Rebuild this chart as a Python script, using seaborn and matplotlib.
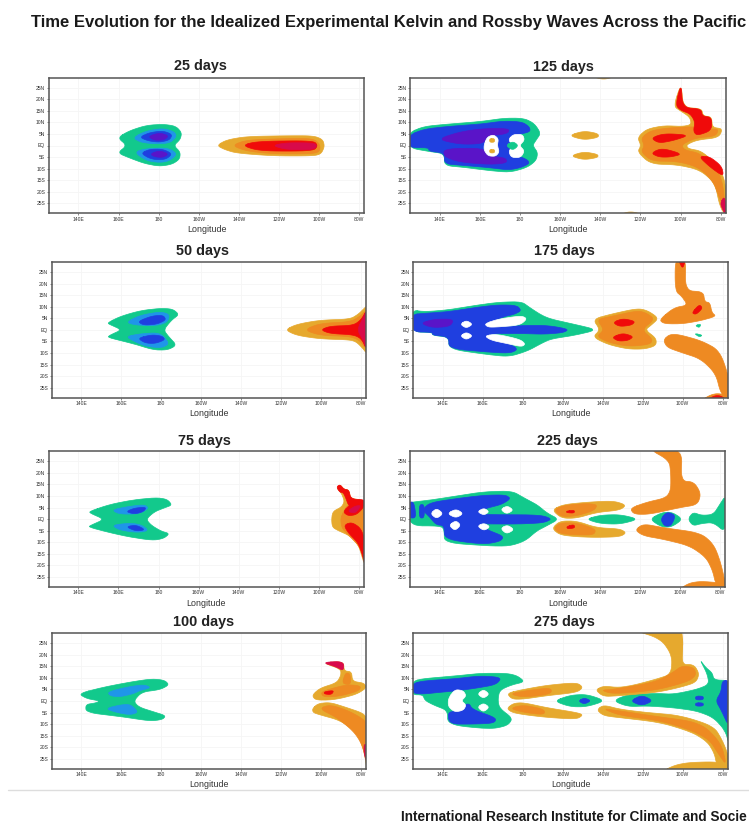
import numpy as np
import pandas as pd
import matplotlib
matplotlib.use("Agg")
import matplotlib.pyplot as plt
import seaborn as sns

# tick labels
LON_TICKS = [140, 160, 180, 200, 220, 240, 260, 280]
LON_LABELS = ["140E", "160E", "180", "160W", "140W", "120W", "100W", "80W"]
LAT_TICKS = [25, 20, 15, 10, 5, 0, -5, -10, -15, -20, -25]
LAT_LABELS = ["25N", "20N", "15N", "10N", "5N", "EQ", "5S", "10S", "15S", "20S", "25S"]

# contour level colours
TEAL, SKY, BLUE, VIOLET = sns.color_palette(["#12c98c", "#1f96e8", "#1f3fe0", "#5a14c8"])
GOLD, ORANGE, RED, CRIMSON = sns.color_palette(["#e6a92e", "#ee8a22", "#f00a0a", "#d80a4a"])
WHITE = "#ffffff"

# contour outlines, (lon east, lat)
# ---- 25 days
D25_TEAL = [(159.5,3.4),(165.5,6.4),(173.8,8.7),(182.2,9.2),(188.5,8.4),(191.5,5.6),(190.8,2.6),(187.5,0),(190.8,-2.8),(190.5,-5.9),(186.8,-8.1),(180.5,-9),(173,-7.8),(165.5,-5.4),(159.5,-3.2),(164.2,0)]
D25_SKY_N = [(167.2,3.4),(173.8,6.3),(182.2,7.4),(187.7,6),(189,3.9),(185.5,1),(177.2,.7),(170.7,1.5)]
D25_SKY_S = [(168,-3),(173,-1.4),(184.7,-1),(189.3,-3.6),(185.5,-6.6),(180.5,-7.4),(173.8,-6.5)]
D25_BLUE_N = [(170.5,3.6),(175.5,5.6),(182.2,6.3),(186.8,4.8),(185.5,2.4),(180.5,1.4),(174.7,2)]
D25_BLUE_S = [(171.3,-3.3),(175.5,-1.6),(182.2,-1.6),(186.8,-3.6),(183.8,-5.9),(178.8,-6.2),(174.7,-5.3)]
D25_VIOLET_N = [(174.7,3.9),(180.5,5.5),(185,4.2),(183,2.5),(178,2.2)]
D25_VIOLET_S = [(175.8,-3.6),(180.5,-2.2),(185,-3.6),(182.2,-5.2),(178,-4.9)]
D25_GOLD = [(209,0),(213.8,2.4),(223.8,3.9),(243.8,4.2),(257.2,4.2),(261.8,2.6),(262.7,-.4),(261,-3.6),(257.2,-4.5),(237.2,-4.5),(218.8,-3.3),(213,-1.8)]
D25_ORANGE = [(216.5,0),(223.8,2.4),(243.8,3),(257.2,3),(260.5,.3),(260.2,-2.8),(255.5,-3.6),(237.2,-3.6),(223.8,-2.4)]
D25_RED = [(221.5,0),(228.8,1.8),(257.2,2.1),(259.3,0),(257.2,-2.4),(230.5,-2.4)]
D25_CRIMSON = [(236.5,0),(243.8,1.2),(257.2,1.1),(259,-.1),(257.2,-1.8),(243.8,-1.8)]

# ---- 50 days
D50_TEAL = [(153,3),(159.5,5.8),(169.5,8.3),(179.5,9.3),(185.8,9),(189,6.6),(185.3,4.3),(181.2,0),(183.7,-2.9),(187.8,-6.6),(183.3,-8.7),(176.2,-8.7),(166.2,-6),(153,-3.3),(154.5,-2.2),(160.3,0),(154.5,2.2)]
D50_SKY_N = [(162.3,3.2),(169.5,6.3),(179.5,7.8),(184.2,6.7),(183.2,3.4),(177.8,1.8),(167.8,2)]
D50_SKY_S = [(162.3,-2.9),(169.5,-1.7),(179.5,-1.2),(184.2,-5.9),(180.3,-7.8),(172.8,-7.2),(167,-5.2)]
D50_BLUE_N = [(168.2,3.6),(175.3,6),(181,6.3),(182.5,4.3),(177.8,2.4),(171.2,2)]
D50_BLUE_S = [(168.2,-3.6),(175.3,-2.1),(180.5,-2.7),(182,-4.3),(177,-5.9),(172,-5.7)]
D50_GOLD = [(242,0),(247.8,2.4),(259.5,4.2),(274.5,4.6),(278.7,6.8),(281.5,9.2),(283,10.5),(283,-10.5),(281.2,-8.3),(277.8,-5.3),(274.5,-4.3),(259.5,-3.9),(247.8,-2.4)]
D50_ORANGE = [(251.5,0),(259.5,2.8),(274.5,3.4),(279.5,5.8),(283,9),(283,-9),(279.5,-4.6),(274.5,-2.8),(259.5,-2.4)]
D50_RED = [(259.8,0),(264.5,1.6),(276.2,1.9),(280.3,4.6),(283,9),(283,-9),(280.3,-3.9),(276.2,-2.1),(264.5,-1.6)]
D50_CRIMSON = [(278,0),(281.2,5.3),(283,9),(283,-9),(281.2,-4.6)]

# ---- 75 days
D75_TEAL = [(145.3,3.3),(155.5,6.3),(167.2,8.3),(178.8,9.3),(184.3,8.6),(186.8,6.1),(183,4.9),(178,3.2),(173.8,0),(176.3,-2.6),(181.3,-5.2),(185.5,-6.2),(182.7,-8.3),(177.2,-9.2),(165.5,-7.7),(155.5,-5.8),(145,-3.4),(146.3,-2.6),(153,-.1),(146.3,2.4)]
D75_SKY_N = [(156.7,3.9),(163.8,5.3),(173,6.3),(175.2,4.6),(169.7,2.2),(160.5,2.2)]
D75_SKY_S = [(156.7,-2.6),(165.5,-1.7),(171.3,-2.4),(175.2,-4.9),(169.7,-5.8),(160.5,-4.7)]
D75_BLUE_N = [(163.7,3.2),(168,4.8),(174,5.2),(172.5,3.2),(168,2.2)]
D75_BLUE_S = [(163.7,-3.3),(168.8,-2.5),(173.5,-4.6),(168.8,-5.2)]
D75_GOLD = [(266.3,0),(267,3.4),(271.3,5.2),(272.8,7.7),(271.3,11.1),(269,13.2),(270.5,15),(272.5,12.9),(275,12.6),(275.9,8.7),(283,8.4),(283,-20.5),(281.3,-15.5),(279.7,-11.2),(275.5,-7.2),(269.7,-5),(266.7,-3.5)]
D75_ORANGE = [(270.8,0),(272.2,3.2),(274.7,6.6),(283,8.1),(283,-19),(280.5,-12),(275.5,-7.5),(271.5,-4)]
D75_RED_TOP = [(268.8,13.8),(270.5,15),(272.5,12.9),(275,12.6),(275.9,8.7),(283,8.4),(283,5.8),(277.2,4.8),(274.7,6),(273.5,8.9),(272.2,11.4),(270.5,11.6)]
D75_RED_N = [(272,3.1),(275.5,6.3),(280.5,7.4),(283,5.8),(279,2),(274.7,1.4)]
D75_RED_S = [(272.5,-2.6),(276.3,-1.3),(280.8,-3.8),(283,-9),(283,-20),(281.3,-14.3),(279.4,-10.1),(274.5,-5.8)]
D75_CRIMSON = [(274.2,3.4),(278,5.7),(281.2,5.9),(278,2.4)]

# ---- 100 days
D100_TEAL = [(138.5,3.2),(151.2,6),(164.5,8.2),(175.3,9.6),(181.7,9),(184,7),(179.5,4.9),(170.3,3.9),(166.2,0),(168.7,-2.6),(176.2,-4.7),(182.3,-6.3),(180.8,-8),(174.5,-8.7),(161.2,-6.9),(142.4,-5),(142.2,-1.5),(147,-.9),(149.5,0),(142.8,1)]
D100_SKY_N = [(153.2,3.9),(162.8,6),(171.2,7.1),(175,5.8),(169.5,4.6),(166.2,3.2),(159.5,1.8),(154.5,2.2)]
D100_SKY_S = [(152,-3.3),(159.5,-1.7),(164.5,-1.4),(168.7,-4.8),(164.5,-6),(157.8,-5)]
D100_GOLD_N = [(255.5,2.5),(259.5,5.6),(267.8,7.8),(270,11.1),(269.8,13.9),(260.5,16.5),(271.3,17.2),(271.5,13),(275.3,12.7),(275.7,8.5),(281.5,7.8),(282.8,5.7),(278,3),(270.3,1.2),(264.5,.4),(257.2,.4)]
D100_GOLD_S = [(255.7,-3.3),(258.5,-1.1),(264.5,-.6),(272,-2.6),(281.5,-5.4),(283,-8.3),(283,-30),(282,-24.1),(280,-17.3),(276.7,-12.9),(269.5,-8.4),(259.5,-6),(256,-5)]
D100_ORANGE_N = [(259.8,3.9),(267.8,6),(273.7,7.1),(280,6.5),(279,4.4),(269.5,2.1),(261.2,1.7)]
D100_ORANGE_NECK = [(270.5,7.5),(272.2,12.2),(274.5,11.9),(275,7)]
D100_ORANGE_S = [(259,-3.3),(264.5,-1.6),(273.7,-4.2),(281.5,-8),(283,-10.5),(283,-26),(280,-17.9),(276,-12.9),(267.8,-7.1)]
D100_RED = [(261.5,4),(266.5,4.6),(265.3,2.8),(261.7,3)]
D100_CRIMSON_N = [(260.5,16.7),(271.3,17.2),(271.3,13),(267.5,14.8)]
D100_CRIMSON_S = [(281.5,-18.8),(283,-18.8),(283,-27),(281.5,-22.7)]

# ---- 125 days
D125_TEAL = [(124.5,5.5),(131.7,8.2),(143.3,9.2),(160,10.3),(171.7,11.8),(181.7,11.8),(187,9.6),(190.3,5.3),(188,2.4),(186.2,0),(188.8,-3),(188,-6.5),(183.5,-9.5),(175,-11.6),(165,-10.9),(151.7,-9.4),(142.2,-8.7),(142.2,-3.5),(134.5,-2.6),(124.5,-1)]
D125_BLUE = [(124.5,4.4),(131.7,7),(143.3,8.2),(160,9.2),(171.7,10.6),(181,10.2),(184.7,8),(185,5.9),(179.2,4.8),(175.8,3.4),(175.3,0),(175.3,-3.3),(183.5,-6),(184.7,-7.8),(180.2,-9.6),(174.2,-10.6),(165,-9.6),(151.7,-8.6),(142.2,-8),(142.2,-3.2),(134.4,-2.5),(134.4,-.9),(124.5,-1)]
D125_VIOLET_N = [(138.7,2.7),(150,5.9),(161.7,7.3),(174.7,7.3),(173.7,5.1),(163.3,4),(161.7,.8),(150,.5)]
D125_VIOLET_S = [(142,-1.4),(161.7,-1.1),(163.3,-4.5),(172.7,-5.3),(173.5,-7.5),(165,-8.2),(150,-7.2),(142,-4.8)]
D125_HOLE_W = [(162,.3),(163.5,3.6),(166.7,4.7),(169.2,2.9),(168.6,0),(169.6,-2.8),(167.7,-4.7),(164,-4.5),(162,-2.1)]
D125_HOLE_E = [(174,2.4),(176.5,4.8),(181.2,4.8),(182.2,2.3),(179.6,0),(182.2,-2.3),(180.3,-5.2),(175.6,-5.2),(174.2,-2.4),(176.7,-.1)]
D125_DIAMOND = [(172.8,0),(176.3,1.8),(179.2,0),(176.3,-2.1)]
D125_DOT_N = [(164.8,3),(167.2,3),(167.2,1.4),(164.8,1.4)]
D125_DOT_S = [(164.8,-1.7),(167.2,-1.7),(167.2,-3.2),(164.8,-3.2)]
D125_BLOB_N = [(204.2,4.3),(211.7,6.3),(218.8,5.2),(219.2,3.5),(211.7,2.4)]
D125_BLOB_S = [(205,-4.5),(211.7,-2.7),(218.8,-3.8),(218.8,-5.2),(211.7,-6.2)]
D125_EDGE_TOP = [(215,30),(228,30),(221.7,28.4)]
D125_EDGE_BOT = [(229,-30),(242,-30),(235,-28.4)]
D125_GOLD = [(238.5,3.4),(243,7.1),(251.7,8.6),(260.8,8.2),(265.4,9),(264.6,12.3),(260,14.9),(256.5,17),(260.3,27),(261.3,16.4),(270.5,16),(271.2,12.8),(275.5,12.4),(275.8,7.8),(281,7.3),(279,3.4),(268.3,2.4),(262.8,.3),(263.8,-1.4),(270.2,-2.3),(277,-7.4),(282,-14),(283,-24.9),(283,-31),(279.6,-26.5),(277.2,-16.4),(269.8,-10.6),(258.3,-8.3),(245,-8),(238.5,-2.8),(240.3,0)]
D125_ORANGE = [(240.3,3.2),(244.8,6.3),(252.5,7.5),(266.7,8.2),(274.2,7.1),(279,7.1),(277.5,4),(267.5,3.3),(260.3,.3),(262,-2),(269.4,-3.3),(276.2,-8.1),(280.8,-14.8),(282.5,-28),(279,-22),(276.5,-15.7),(269,-9.4),(258.3,-6.8),(245.6,-6.8),(240.3,-2.8),(242,0)]
D125_RED_N = [(245.2,3.2),(251.7,5.2),(264.5,4.5),(256.7,2.2),(249.2,1)]
D125_RED_S = [(245.2,-3.3),(250.7,-1.1),(261,-3.7),(255,-5),(249.2,-5)]
D125_RED_E = [(269,-4.7),(274.4,-4.7),(280.6,-9),(281.5,-13.5),(274.8,-9.4)]
D125_RED_TOP = [(257.5,17.5),(260.3,27),(261,16.4),(270.3,15.8),(270.8,12.7),(275.5,12.2),(275.5,6.5),(268.3,4.3),(266.4,6),(267.2,10.3),(264.8,13.7),(260,15.2)]
D125_CRIMSON = [(279.8,-25),(281.7,-22),(283,-26),(283,-31),(281,-27.7)]

# ---- 175 days
D175_TEAL = [(124.5,8.6),(130.8,7.8),(142.5,8.6),(155.8,10.5),(167.5,11.9),(179.4,12.2),(183.5,9.6),(189.4,6.3),(194.2,4.6),(205.8,2.4),(217.5,0),(205.8,-2.4),(194.2,-3.9),(189.4,-5.8),(182.7,-9),(173.3,-11.6),(162.5,-10.7),(143,-8.3),(143,-3.1),(134.8,-2.4),(134.8,-1.1),(124.5,-.9)]
D175_BLUE = [(124.5,6.7),(130.8,7.1),(142.5,7.8),(155.8,9.6),(167.5,10.8),(177,10.6),(179.3,8.3),(175.8,6.7),(170.8,5.8),(164.2,3.4),(162.5,1.7),(166.7,1.2),(180.8,1.9),(192.5,1.9),(203,.3),(200.5,-1.2),(190.8,-1.9),(180.8,-1.6),(166.7,-1.6),(162.5,-2.2),(166.7,-4.1),(175.8,-7),(177.2,-8.7),(173.3,-10.1),(162.5,-9.6),(143,-8.1),(143,-3),(134.8,-2.3),(134.8,-1),(124.5,-.9)]
D175_VIOLET = [(128.7,2.9),(135.8,4.6),(145.5,4.6),(143.7,1.5),(134.8,.9)]
D175_FINGER_N = [(160.8,2.6),(167.5,4.6),(179.2,6.1),(182.2,4.8),(178.5,2),(166.7,1.2),(162.5,1.2)]
D175_FINGER_S = [(160.8,-2.6),(166.7,-1.8),(178.5,-4.1),(181.3,-6.1),(179.4,-7.3),(172.5,-6),(164.2,-4.5)]
D175_DOT_N = [(148.7,2.4),(151.7,4.1),(155,2.4),(151.7,.7)]
D175_DOT_S = [(148.7,-2.6),(151.7,-1),(155,-2.6),(151.7,-4.3)]
D175_GOLD = [(215,4.6),(224.2,6.8),(237.5,9.3),(242.7,8.2),(248,5),(244.2,2),(241.2,0),(246.7,-3.6),(246.7,-6.8),(241,-8.3),(232.5,-8.3),(222.5,-6.3),(215,-3.1),(218.7,0)]
D175_ORANGE = [(217,4.5),(224.2,5.8),(237.5,8.3),(242,7.2),(246,4.6),(239.4,0),(245,-4),(243.7,-6.3),(232.5,-7.2),(222.5,-5.3),(217,-2.8),(220.7,0)]
D175_RED_N = [(225,3.2),(230,4.9),(236.3,3.7),(234.4,2),(228.3,1.4)]
D175_RED_S = [(224.5,-3.2),(230,-1.4),(235.5,-2.9),(232.7,-4.6),(227.8,-4.9)]
D175_NORTH = [(248.2,4.3),(255.6,9.6),(262.5,10.6),(259.6,14.4),(256.2,16.8),(256.2,31),(261.6,31),(261.2,16.9),(270.3,16.5),(271,12.1),(273.6,11.8),(274.6,7.4),(276.8,5.9),(269.2,4),(260,2.6),(250.8,2.6)]
D175_RED_TOP = [(257.5,31),(261.5,31),(260,26)]
D175_RED_STRIPE = [(264.5,7.3),(268.3,11),(270,9.4),(266.7,6.6)]
D175_SOUTH = [(250.3,-4.5),(253.1,-2.1),(257.5,-1.9),(269.4,-4.7),(278.6,-9),(283.5,-21.6),(283.5,-31),(279,-27.5),(276.5,-18.9),(269,-12.5),(259,-9.7),(252.2,-7.6)]
D175_SLIVER = [(268,-31),(275.8,-27.2),(283.5,-28.4),(283.5,-31)]
D175_SLIVER_RED = [(270.5,-31),(277.5,-27.7),(283.5,-31)]
D175_SPECK_N = [(266.2,1.9),(269.2,2.5),(268.3,.9)]
D175_SPECK_S = [(265.7,-1.5),(270,-2.3),(268.3,-3.1)]

# ---- 225 days
D225_TEAL = [(124.5,7.1),(126.7,7.4),(135,8.2),(148.3,10),(161.7,11.8),(176,12.2),(182,9.2),(188.5,6.3),(193.6,2.6),(199.5,0),(193.6,-2.8),(188.5,-5),(182.7,-9.4),(175,-11.6),(165,-11.6),(142.2,-10.2),(142.2,-5),(140.8,-2.9),(124.5,-2.9)]
D225_BLUE = [(131.2,3.9),(134.8,7.1),(148.3,8.9),(161.7,10.3),(172.7,10.5),(175.5,8.9),(170.8,6.3),(163.3,4.8),(158.8,2.4),(165,1.9),(183.3,1.9),(191.7,1.5),(196,0),(191.7,-1.6),(180,-2.1),(166.7,-2.1),(159.6,-1.9),(163.3,-4.5),(172,-7.4),(170.2,-9.6),(161.7,-10.9),(142.2,-8.7),(142.2,-2.8),(138,-2.4),(134.8,1)]
D225_STRIPE_A = [(124.5,.5),(124.5,7.4),(127,7.4),(128.2,.5)]
D225_STRIPE_B = [(129.7,.5),(129.7,6.3),(132.2,6.3),(132.2,.5)]
D225_HOLE_A = [(135.3,2.4),(138.3,4.7),(141.7,2.4),(138.3,.2)]
D225_HOLE_B = [(143.7,2.4),(148,4.4),(151.8,2.4),(148,.5)]
D225_HOLE_C = [(158.7,3.2),(162,4.8),(164.7,3.2),(162,1.7)]
D225_HOLE_D = [(170.3,4.2),(173.7,5.8),(176.8,3.9),(173.3,2.2)]
D225_HOLE_E = [(144.5,-2.6),(148,-.6),(150.5,-2.6),(147.5,-5)]
D225_HOLE_F = [(158.7,-3),(162,-1.7),(165.2,-3.3),(162,-5)]
D225_HOLE_G = [(170.3,-4),(173.7,-2.5),(177.2,-4.5),(173.3,-6.4)]
D225_GOLD_N = [(196,4),(201.7,6.3),(213.3,7.3),(226.7,7.9),(233.2,6.1),(230,3.9),(218.3,2.9),(208.3,.4),(200.8,.4)]
D225_ORANGE_N = [(197,4),(201.7,5.9),(213.3,6.8),(218.8,6.2),(217,3.7),(208.3,1.4),(200.8,1)]
D225_RED_N = [(203.3,3.5),(207.2,3.9),(207.2,2.6),(203.3,2.8)]
D225_GOLD_S = [(196,-4),(200,-.8),(208.3,-.8),(218.3,-3.7),(230,-4.2),(233.2,-5.9),(230,-7.6),(218.3,-7.9),(208.3,-7.6),(200,-6.8)]
D225_ORANGE_S = [(197,-4),(200,-1.6),(208.3,-1.6),(218,-4.3),(217,-6.8),(208.3,-6.8),(200,-6.2)]
D225_RED_S = [(203.3,-3.2),(207,-2.3),(207.5,-3.8),(203.8,-4.2)]
D225_LENS = [(213,0),(220,1.7),(230,2),(239.5,0),(230,-2.2),(220,-1.9)]
D225_DIAMOND = [(244.8,0),(250.8,2.8),(255.8,3.1),(261.5,0),(255.8,-3.4),(250.8,-3.4)]
D225_DIAMOND_BLUE = [(250.3,0),(253.3,3.1),(257.2,2),(257.2,0),(255.3,-3),(252.2,-3)]
D225_TEAL_E = [(264,0),(266.5,3),(270.8,1.6),(276.7,2),(280,6.5),(283,10.5),(283,-6),(276.7,-1.4),(270.8,-1.9),(266.5,-2.9)]
D225_NORTH = [(235,4.7),(243.3,7.3),(253,9.2),(255.4,12.5),(255.4,19.7),(254.6,25.4),(244,30.5),(261.2,30.5),(260.4,16.5),(267,16.1),(270.5,11.1),(268.8,6.2),(260,5),(245,2.1),(237,2.1)]
D225_SOUTH = [(237.5,-4.7),(241.7,-2),(251.7,-3.7),(270.3,-5.9),(277,-11),(280.5,-19.1),(283.5,-31),(278,-28.6),(276.3,-22.2),(273,-16.5),(264.8,-11.5),(251.7,-8.7),(241.7,-7.2)]
D225_SLIVER = [(258,-31),(266.7,-26.6),(283.5,-27.7),(283.5,-31)]

# ---- 275 days
D275_TEAL = [(125,8.6),(130.3,9.7),(147,10.9),(158.7,12),(172,12),(177.3,10.9),(181,8.3),(174.5,7),(168.4,4.7),(167.5,.4),(168.4,-3.2),(175,-7.5),(172.3,-10.7),(163.7,-12.2),(142.4,-10.3),(142.4,-4.1),(136,-2),(131,.2),(130,2.7),(124.5,2.7)]
D275_BLUE_N = [(125,7.6),(130.3,8.7),(147,9.7),(158.7,10.9),(169.5,10.2),(166.7,7.1),(157,5.6),(147,4.4),(137.8,3.7),(130.3,3),(125,3.3)]
D275_BLUE_S = [(142.4,-5.1),(146.2,-4.3),(152.8,-.6),(154.8,-3.7),(166.8,-7.3),(165.7,-9.6),(155.3,-10),(143.4,-10)]
D275_HOLE_A = [(142.7,1.1),(146,5),(150.2,4.5),(151.7,2.2),(149.2,.1),(151.7,-1.7),(150.3,-4),(146,-4.8),(142.7,-2.5)]
D275_HOLE_B = [(157.3,3),(160.3,5),(163.3,3),(160.3,1.1)]
D275_HOLE_C = [(157.3,-2.7),(160.3,-.9),(163.3,-2.7),(160.3,-4.8)]
D275_GOLD_N = [(172,3.4),(180.3,5),(192,6.8),(207,8),(210.2,5.9),(207,3.7),(192,2.3),(180.3,.8),(174.5,.8)]
D275_ORANGE_N = [(173.5,3),(180.3,4.3),(194.2,5.8),(194.2,3),(180.3,1.6)]
D275_GOLD_S = [(172,-3.2),(175.3,-1),(180.3,-.7),(192,-2.9),(207,-5),(210.2,-6),(207,-7.9),(192,-7.1),(180.3,-5.9),(174.5,-4.9)]
D275_ORANGE_S = [(173.5,-3.2),(180.3,-1.7),(190.8,-3.6),(190.8,-6),(180.3,-4.9)]
D275_LENS = [(195.5,0),(203.7,2.5),(212,2.9),(221.5,.1),(212,-2.5),(203.7,-2.5)]
D275_LENS_BLUE = [(207.8,0),(210.7,1.4),(214.2,.1),(210.7,-1.4)]
D275_NORTH = [(216.3,4.8),(220.3,6.5),(227.8,5.8),(235.3,6.8),(247,9.5),(254.2,11.6),(254.7,19.7),(249,27),(234,31),(260.8,31),(259,15.8),(265.6,15.8),(268.3,11.8),(266.6,8),(258.7,5.9),(247,3.7),(228.7,2.3),(220.3,1.9)]
D275_NORTH_ORANGE = [(219,4.7),(225.3,5),(247,8.3),(256,12.9),(259.5,15.2),(265.7,14.5),(266.7,11.2),(263,8.5),(247,4.7),(225.3,3)]
D275_STEM = [(256,14.8),(254.2,22),(256.5,31),(260,31),(259.8,14.8)]
D275_SOUTH = [(217,-3.9),(220.3,-1.7),(228.7,-3.6),(242,-5),(258.7,-6.2),(275.6,-10.9),(280,-17.3),(283,-24),(283,-31),(277,-27.8),(275.9,-22.8),(272.5,-17.8),(265,-13.6),(248.7,-9.2),(227,-7.1),(220.3,-6.3)]
D275_SOUTH_ORANGE = [(219.6,-3.2),(228.7,-4.3),(245.3,-6.5),(269,-9.3),(279.2,-18.2),(282,-28),(277.5,-22.4),(273.5,-17),(265.1,-12.9),(248.7,-8.5),(228.7,-6.3)]
D275_SLIVER = [(248,-31),(258.7,-26.8),(277,-26.2),(283,-28),(283,-31)]
D275_TEAL_E = [(225,.1),(232.8,2.9),(247,3.3),(255.3,2.9),(267,5),(273.2,7.2),(272.2,11.9),(268.5,18),(271.5,14.5),(274.8,12.2),(275.6,9.1),(283.5,8.9),(283.5,-20),(281.4,-13),(275.5,-7.2),(267,-4.3),(255.3,-2.9),(242,-2.1),(232.8,-2.5)]
D275_ELLIPSE = [(233.7,0),(239.5,2.6),(245.3,.1),(239.5,-2.1)]
D275_BLUE_E = [(279.8,8.9),(283.5,8.9),(283.5,-12),(279.2,-3.9),(276.5,.1),(279.2,4)]
D275_BAR_N = [(266.4,2.1),(270.3,2.1),(270.3,.5),(266.4,.5)]
D275_BAR_S = [(266.4,-.8),(270.3,-.8),(270.3,-2.2),(266.4,-2.2)]

# panel title, frame in pixels (left, right, top, bottom), title pixel, regions in draw order
PANELS = [
    ("25 days", (48.7, 364.3, 77.7, 213.3), (200, 66), [
        (TEAL, D25_TEAL), (SKY, D25_SKY_N), (SKY, D25_SKY_S), (BLUE, D25_BLUE_N), (BLUE, D25_BLUE_S),
        (VIOLET, D25_VIOLET_N), (VIOLET, D25_VIOLET_S),
        (GOLD, D25_GOLD), (ORANGE, D25_ORANGE), (RED, D25_RED), (CRIMSON, D25_CRIMSON)]),
    ("50 days", (51.7, 366, 262, 397.7), (203, 251), [
        (TEAL, D50_TEAL), (SKY, D50_SKY_N), (SKY, D50_SKY_S), (BLUE, D50_BLUE_N), (BLUE, D50_BLUE_S),
        (GOLD, D50_GOLD), (ORANGE, D50_ORANGE), (RED, D50_RED), (CRIMSON, D50_CRIMSON)]),
    ("75 days", (48.7, 364, 451.3, 587), (204, 441), [
        (TEAL, D75_TEAL), (SKY, D75_SKY_N), (SKY, D75_SKY_S), (BLUE, D75_BLUE_N), (BLUE, D75_BLUE_S),
        (GOLD, D75_GOLD), (ORANGE, D75_ORANGE), (RED, D75_RED_TOP), (RED, D75_RED_N), (RED, D75_RED_S),
        (CRIMSON, D75_CRIMSON)]),
    ("100 days", (51.7, 366, 633.3, 768.7), (204, 622), [
        (TEAL, D100_TEAL), (SKY, D100_SKY_N), (SKY, D100_SKY_S),
        (GOLD, D100_GOLD_N), (GOLD, D100_GOLD_S), (ORANGE, D100_ORANGE_N), (ORANGE, D100_ORANGE_NECK),
        (ORANGE, D100_ORANGE_S), (RED, D100_RED), (CRIMSON, D100_CRIMSON_N), (CRIMSON, D100_CRIMSON_S)]),
    ("125 days", (410.3, 725.7, 77.7, 213.3), (563, 67), [
        (TEAL, D125_TEAL), (BLUE, D125_BLUE), (VIOLET, D125_VIOLET_N), (VIOLET, D125_VIOLET_S),
        (WHITE, D125_HOLE_W), (WHITE, D125_HOLE_E), (TEAL, D125_DIAMOND), (GOLD, D125_DOT_N), (GOLD, D125_DOT_S),
        (GOLD, D125_BLOB_N), (GOLD, D125_BLOB_S), (GOLD, D125_EDGE_TOP), (GOLD, D125_EDGE_BOT),
        (GOLD, D125_GOLD), (ORANGE, D125_ORANGE), (RED, D125_RED_N), (RED, D125_RED_S), (RED, D125_RED_E),
        (RED, D125_RED_TOP), (CRIMSON, D125_CRIMSON)]),
    ("175 days", (413.3, 727.7, 262, 397.7), (564, 251), [
        (TEAL, D175_TEAL), (BLUE, D175_BLUE), (VIOLET, D175_VIOLET),
        (WHITE, D175_FINGER_N), (WHITE, D175_FINGER_S), (WHITE, D175_DOT_N), (WHITE, D175_DOT_S),
        (GOLD, D175_GOLD), (ORANGE, D175_ORANGE), (RED, D175_RED_N), (RED, D175_RED_S),
        (ORANGE, D175_NORTH), (RED, D175_RED_TOP), (RED, D175_RED_STRIPE), (ORANGE, D175_SOUTH),
        (ORANGE, D175_SLIVER), (RED, D175_SLIVER_RED), (TEAL, D175_SPECK_N), (TEAL, D175_SPECK_S)]),
    ("225 days", (410.3, 725, 451.3, 587), (567, 441), [
        (TEAL, D225_TEAL), (BLUE, D225_BLUE), (BLUE, D225_STRIPE_A), (BLUE, D225_STRIPE_B),
        (WHITE, D225_HOLE_A), (WHITE, D225_HOLE_B), (WHITE, D225_HOLE_C), (WHITE, D225_HOLE_D),
        (WHITE, D225_HOLE_E), (WHITE, D225_HOLE_F), (WHITE, D225_HOLE_G),
        (GOLD, D225_GOLD_N), (ORANGE, D225_ORANGE_N), (RED, D225_RED_N),
        (GOLD, D225_GOLD_S), (ORANGE, D225_ORANGE_S), (RED, D225_RED_S),
        (TEAL, D225_LENS), (TEAL, D225_DIAMOND), (BLUE, D225_DIAMOND_BLUE), (TEAL, D225_TEAL_E),
        (ORANGE, D225_NORTH), (ORANGE, D225_SOUTH), (ORANGE, D225_SLIVER)]),
    ("275 days", (413.3, 727.7, 633.3, 768.7), (564, 622), [
        (TEAL, D275_TEAL), (BLUE, D275_BLUE_N), (BLUE, D275_BLUE_S),
        (WHITE, D275_HOLE_A), (WHITE, D275_HOLE_B), (WHITE, D275_HOLE_C),
        (GOLD, D275_GOLD_N), (ORANGE, D275_ORANGE_N), (GOLD, D275_GOLD_S), (ORANGE, D275_ORANGE_S),
        (TEAL, D275_LENS), (BLUE, D275_LENS_BLUE),
        (TEAL, D275_TEAL_E), (BLUE, D275_ELLIPSE), (BLUE, D275_BLUE_E), (BLUE, D275_BAR_N), (BLUE, D275_BAR_S),
        (GOLD, D275_NORTH), (ORANGE, D275_NORTH_ORANGE), (GOLD, D275_STEM),
        (GOLD, D275_SOUTH), (ORANGE, D275_SOUTH_ORANGE), (GOLD, D275_SLIVER)]),
]

W, H = 749, 824
sns.set_theme(style="whitegrid", rc={"grid.color": "#f5f5f5", "grid.linewidth": 0.6})
plt.rcParams["font.family"] = ["Liberation Sans", "DejaVu Sans"]

fig = plt.figure(figsize=(W / 100, H / 100), dpi=100, facecolor="white")


def round_corners(outline, passes=3, cut=0.22):
    # contours in the picture are smooth, so knock the corners off the outline
    pts = np.array(outline, dtype=float)
    for _ in range(passes):
        nxt = np.roll(pts, -1, axis=0)
        pts = np.column_stack([(1 - cut) * pts + cut * nxt, cut * pts + (1 - cut) * nxt]).reshape(-1, 2)
    return pts


def draw_region(ax, colour, outline):
    pts = round_corners(outline)
    df = pd.DataFrame(np.vstack([pts, pts[:1]]), columns=["lon", "lat"])
    ax.fill(df["lon"], df["lat"], color=colour, lw=0, zorder=2)
    sns.lineplot(data=df, x="lon", y="lat", sort=False, estimator=None, color=colour,
                 lw=0.5, ax=ax, legend=False, zorder=2)


for title, frame, title_xy, regions in PANELS:
    left, right, top, bottom = frame
    ax = fig.add_axes([left / W, 1 - bottom / H, (right - left) / W, (bottom - top) / H])
    for colour, outline in regions:
        draw_region(ax, colour, outline)
    ax.set_xlim(125.2, 282.5)
    ax.set_ylim(-29.3, 29.3)
    ax.set_xticks(LON_TICKS, LON_LABELS)
    ax.set_yticks(LAT_TICKS, LAT_LABELS)
    ax.tick_params(labelsize=3.6, length=1.5, width=0.4, pad=1, colors="#333333",
                   bottom=True, left=True)
    ax.set_axisbelow(True)
    ax.set_xlabel("Longitude", fontsize=6.4, color="#333333", labelpad=2.2)
    ax.set_ylabel("")
    for side in ax.spines.values():
        side.set_color("#555555")
        side.set_linewidth(1.1)
    fig.text(title_xy[0] / W, 1 - title_xy[1] / H, title, ha="center", va="center",
             fontsize=10.4, fontweight="bold", color="#222222")

fig.text(31 / W, 1 - 22 / H, "Time Evolution for the Idealized Experimental Kelvin and Rossby Waves Across the Pacific",
         ha="left", va="center", fontsize=11.95, fontweight="bold", color="#1a1a1a")
fig.add_artist(plt.Line2D([8 / W, 1], [1 - 790 / H, 1 - 790 / H], color="#dddddd", lw=1))
# the reference stops at "Socie", the rest of the word is past its right edge
fig.text(401 / W, 1 - 817 / H, "International Research Institute for Climate and Socie",
         ha="left", va="center", fontsize=9.85, fontweight="bold", color="#1a1a1a")

fig.savefig("out.png", dpi=100)
